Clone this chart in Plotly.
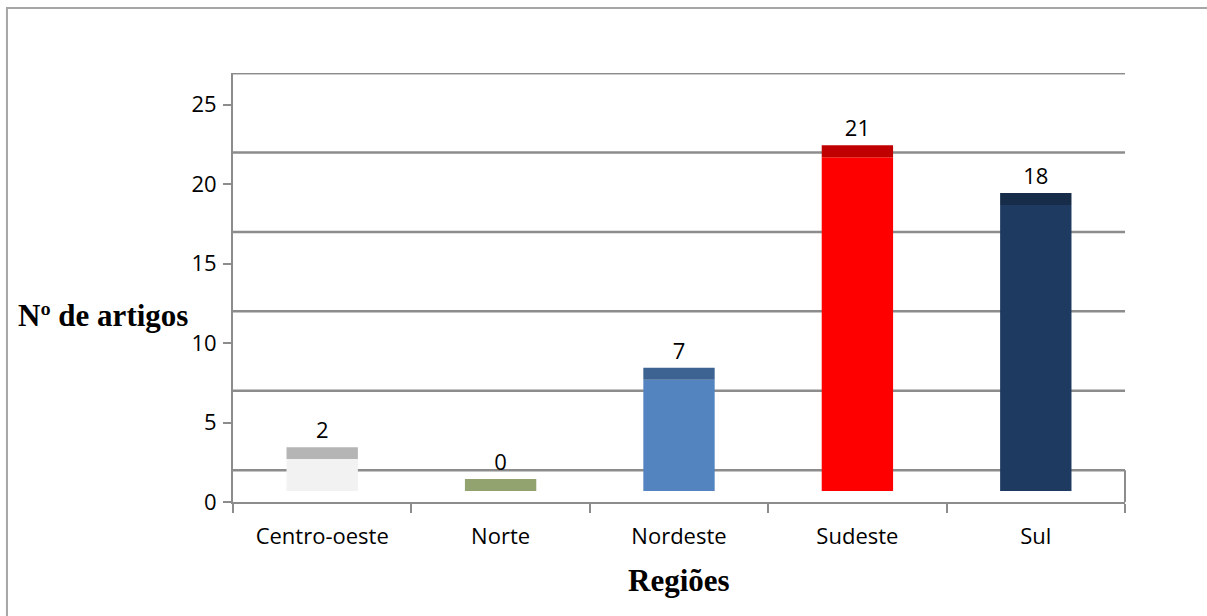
import plotly.graph_objects as go

# Article counts by Brazilian region
regioes = ["Centro-oeste", "Norte", "Nordeste", "Sudeste", "Sul"]
artigos = [2, 0, 7, 21, 18]

# Face colours (front) and top-cap colours for each column
cor_frente = ["#f2f2f2", "#9bab76", "#5384c0", "#ff0000", "#1f3a60"]
cor_topo = ["#b5b5b5", "#93a36f", "#3c6392", "#c00000", "#162c48"]

y_ticks = [0, 5, 10, 15, 20, 25]

# pseudo-3D look: columns stand on a raised floor and carry a visible top face
PISO = 0.7
TOPO = 0.75
PAREDE = 2  # back-wall grid is drawn shifted upward

fig = go.Figure()

fig.add_trace(go.Bar(
    x=regioes, y=artigos, base=PISO,
    marker=dict(color=cor_frente, line=dict(width=0)),
    width=0.4, hoverinfo="skip", showlegend=False,
))
fig.add_trace(go.Bar(
    x=regioes, y=[TOPO] * len(artigos), base=[v + PISO for v in artigos],
    marker=dict(color=cor_topo, line=dict(width=0)),
    width=0.4, showlegend=False,
    text=[str(v) for v in artigos], textposition="outside",
    textfont=dict(family="Open Sans", size=22, color="#000000"),
    cliponaxis=False,
))

grid_color = "#8c8c8c"
shapes = []
for v in y_ticks + [27 - PAREDE]:
    shapes.append(dict(type="line", xref="paper", yref="y", x0=0, x1=1,
                       y0=v + PAREDE, y1=v + PAREDE,
                       line=dict(color=grid_color, width=2.5), layer="below"))
# right edge of the floor
shapes.append(dict(type="line", xref="paper", yref="y", x0=1, x1=1,
                   y0=0, y1=PAREDE, line=dict(color=grid_color, width=2), layer="below"))
# outer chart frame
shapes.append(dict(type="rect", xref="paper", yref="paper",
                   x0=-0.2534, x1=1.2, y0=-0.4, y1=1.1515,
                   line=dict(color="#a6a6a6", width=2), layer="below"))

fig.update_layout(
    width=1207, height=616,
    margin=dict(l=233, r=82, t=73, b=114),
    paper_bgcolor="white", plot_bgcolor="white",
    barmode="overlay",
    shapes=shapes,
    xaxis=dict(
        type="category", showgrid=False, showline=True,
        linecolor=grid_color, linewidth=2,
        ticks="outside", tickson="boundaries", ticklen=9, tickwidth=2,
        tickcolor=grid_color, ticklabelstandoff=14,
        tickfont=dict(family="Open Sans", size=22, color="#000000"),
    ),
    yaxis=dict(
        range=[0, 27], tickvals=y_ticks, showgrid=False, zeroline=False,
        showline=True, linecolor=grid_color, linewidth=2,
        ticks="outside", ticklen=8, tickwidth=2, tickcolor=grid_color,
        ticklabelstandoff=2,
        tickfont=dict(family="Open Sans", size=22, color="#000000"),
    ),
    annotations=[
        dict(text="<b>Nº de artigos</b>", xref="paper", yref="paper",
             x=-0.048, y=0.4336, xanchor="right", yanchor="middle",
             showarrow=False,
             font=dict(family="Liberation Serif", size=31, color="#000000")),
        dict(text="<b>Regiões</b>", xref="paper", yref="paper",
             x=0.5, y=-0.182, xanchor="center", yanchor="middle",
             showarrow=False,
             font=dict(family="Liberation Serif", size=31, color="#000000")),
    ],
)

fig.write_html("out.html")
